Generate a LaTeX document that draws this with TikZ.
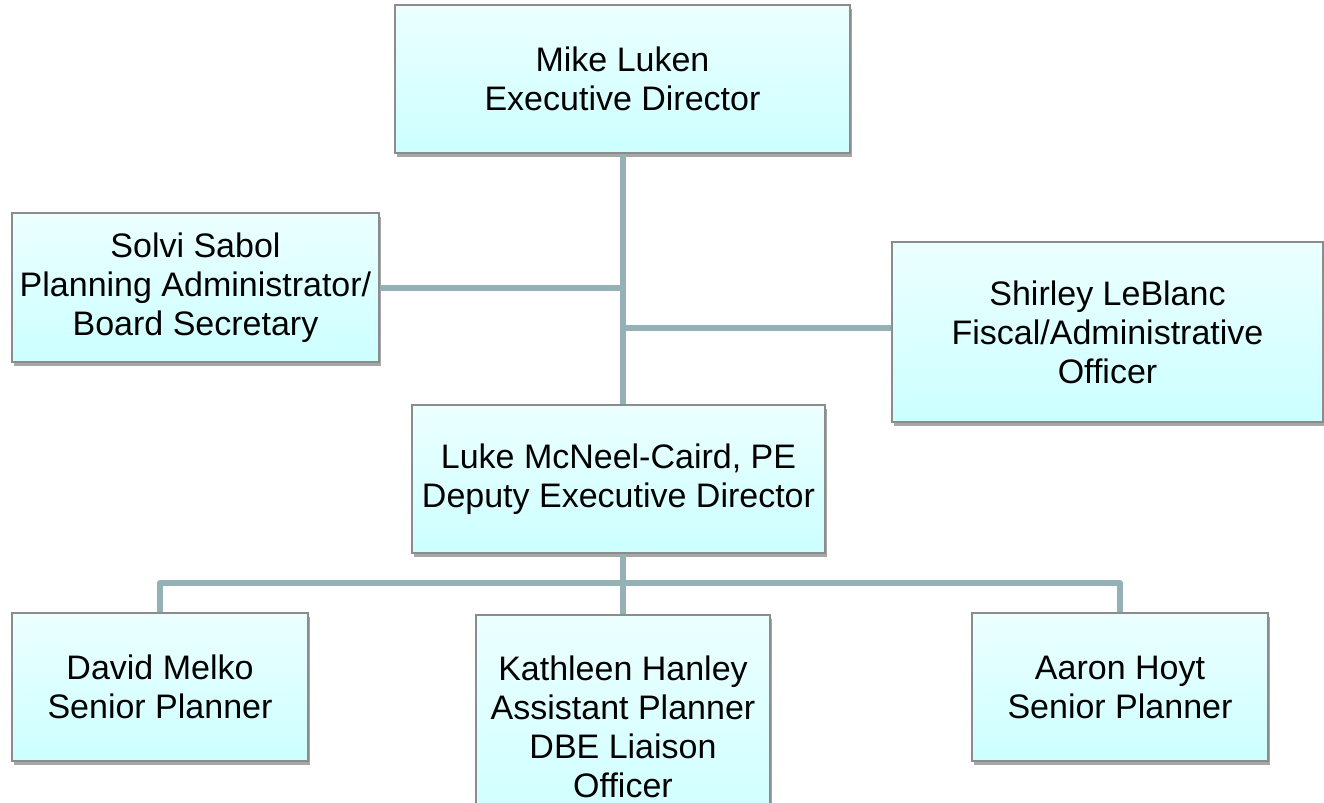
\documentclass[tikz,border=0pt]{standalone}
\usepackage{fontspec}
\setmainfont{Liberation Sans}
\usetikzlibrary{shadows}
\definecolor{boxtop}{RGB}{236,255,255}
\definecolor{boxbot}{RGB}{204,255,255}
\definecolor{boxline}{RGB}{140,140,140}
\definecolor{connc}{RGB}{148,178,181}
\tikzset{
  orgbox/.style={rectangle, draw=boxline, line width=0.8pt, top color=boxtop, bottom color=boxbot,
    align=center, inner sep=0pt, font=\fontsize{17pt}{19.5pt}\selectfont,
    drop shadow={shadow xshift=1.2pt, shadow yshift=-1.8pt, opacity=0.35, fill=black}},
  conn/.style={draw=connc, line width=3pt, line join=round, line cap=butt}
}
\begin{document}
\begin{tikzpicture}[x=0.5pt,y=-0.5pt]
\useasboundingbox (0,0) rectangle (1324,803);
\clip (0,0) rectangle (1324,803);
% connectors
\coordinate (jR) at (623,328);
\coordinate (bus) at (623,583);
\node[orgbox, minimum width=227.5pt, minimum height=74pt] (mike) at (622.5,79) {Mike Luken\\Executive Director};
\node[orgbox, minimum width=183.5pt, minimum height=74.5pt] (solvi) at (195.5,287.5) {Solvi Sabol\\Planning Administrator/\\Board Secretary};
\node[orgbox, minimum width=215.5pt, minimum height=90pt] (shirley) at (1107.5,332) {Shirley LeBlanc\\Fiscal/Administrative\\Officer};
\node[orgbox, minimum width=206.5pt, minimum height=74pt] (luke) at (618.5,479) {Luke McNeel-Caird, PE\\Deputy Executive Director};
\node[orgbox, minimum width=148pt, minimum height=74pt] (david) at (160,687) {David Melko\\Senior Planner};
\node[orgbox, minimum width=147pt, minimum height=112pt] (kath) at (623,727) {Kathleen Hanley\\Assistant Planner\\DBE Liaison\\Officer};
\node[orgbox, minimum width=148pt, minimum height=74pt] (aaron) at (1120,687) {Aaron Hoyt\\Senior Planner};
\draw[conn] (mike.south) -- (mike.south |- luke.north);
\draw[conn] (solvi.east) -- (solvi.east -| mike.south);
\draw[conn] (jR) -- (jR -| shirley.west);
\draw[conn] (bus |- luke.south) -- (bus);
\draw[conn] (david.north) |- (bus) -| (aaron.north);
\draw[conn] (bus) -- (bus |- kath.north);
\end{tikzpicture}
\end{document}
